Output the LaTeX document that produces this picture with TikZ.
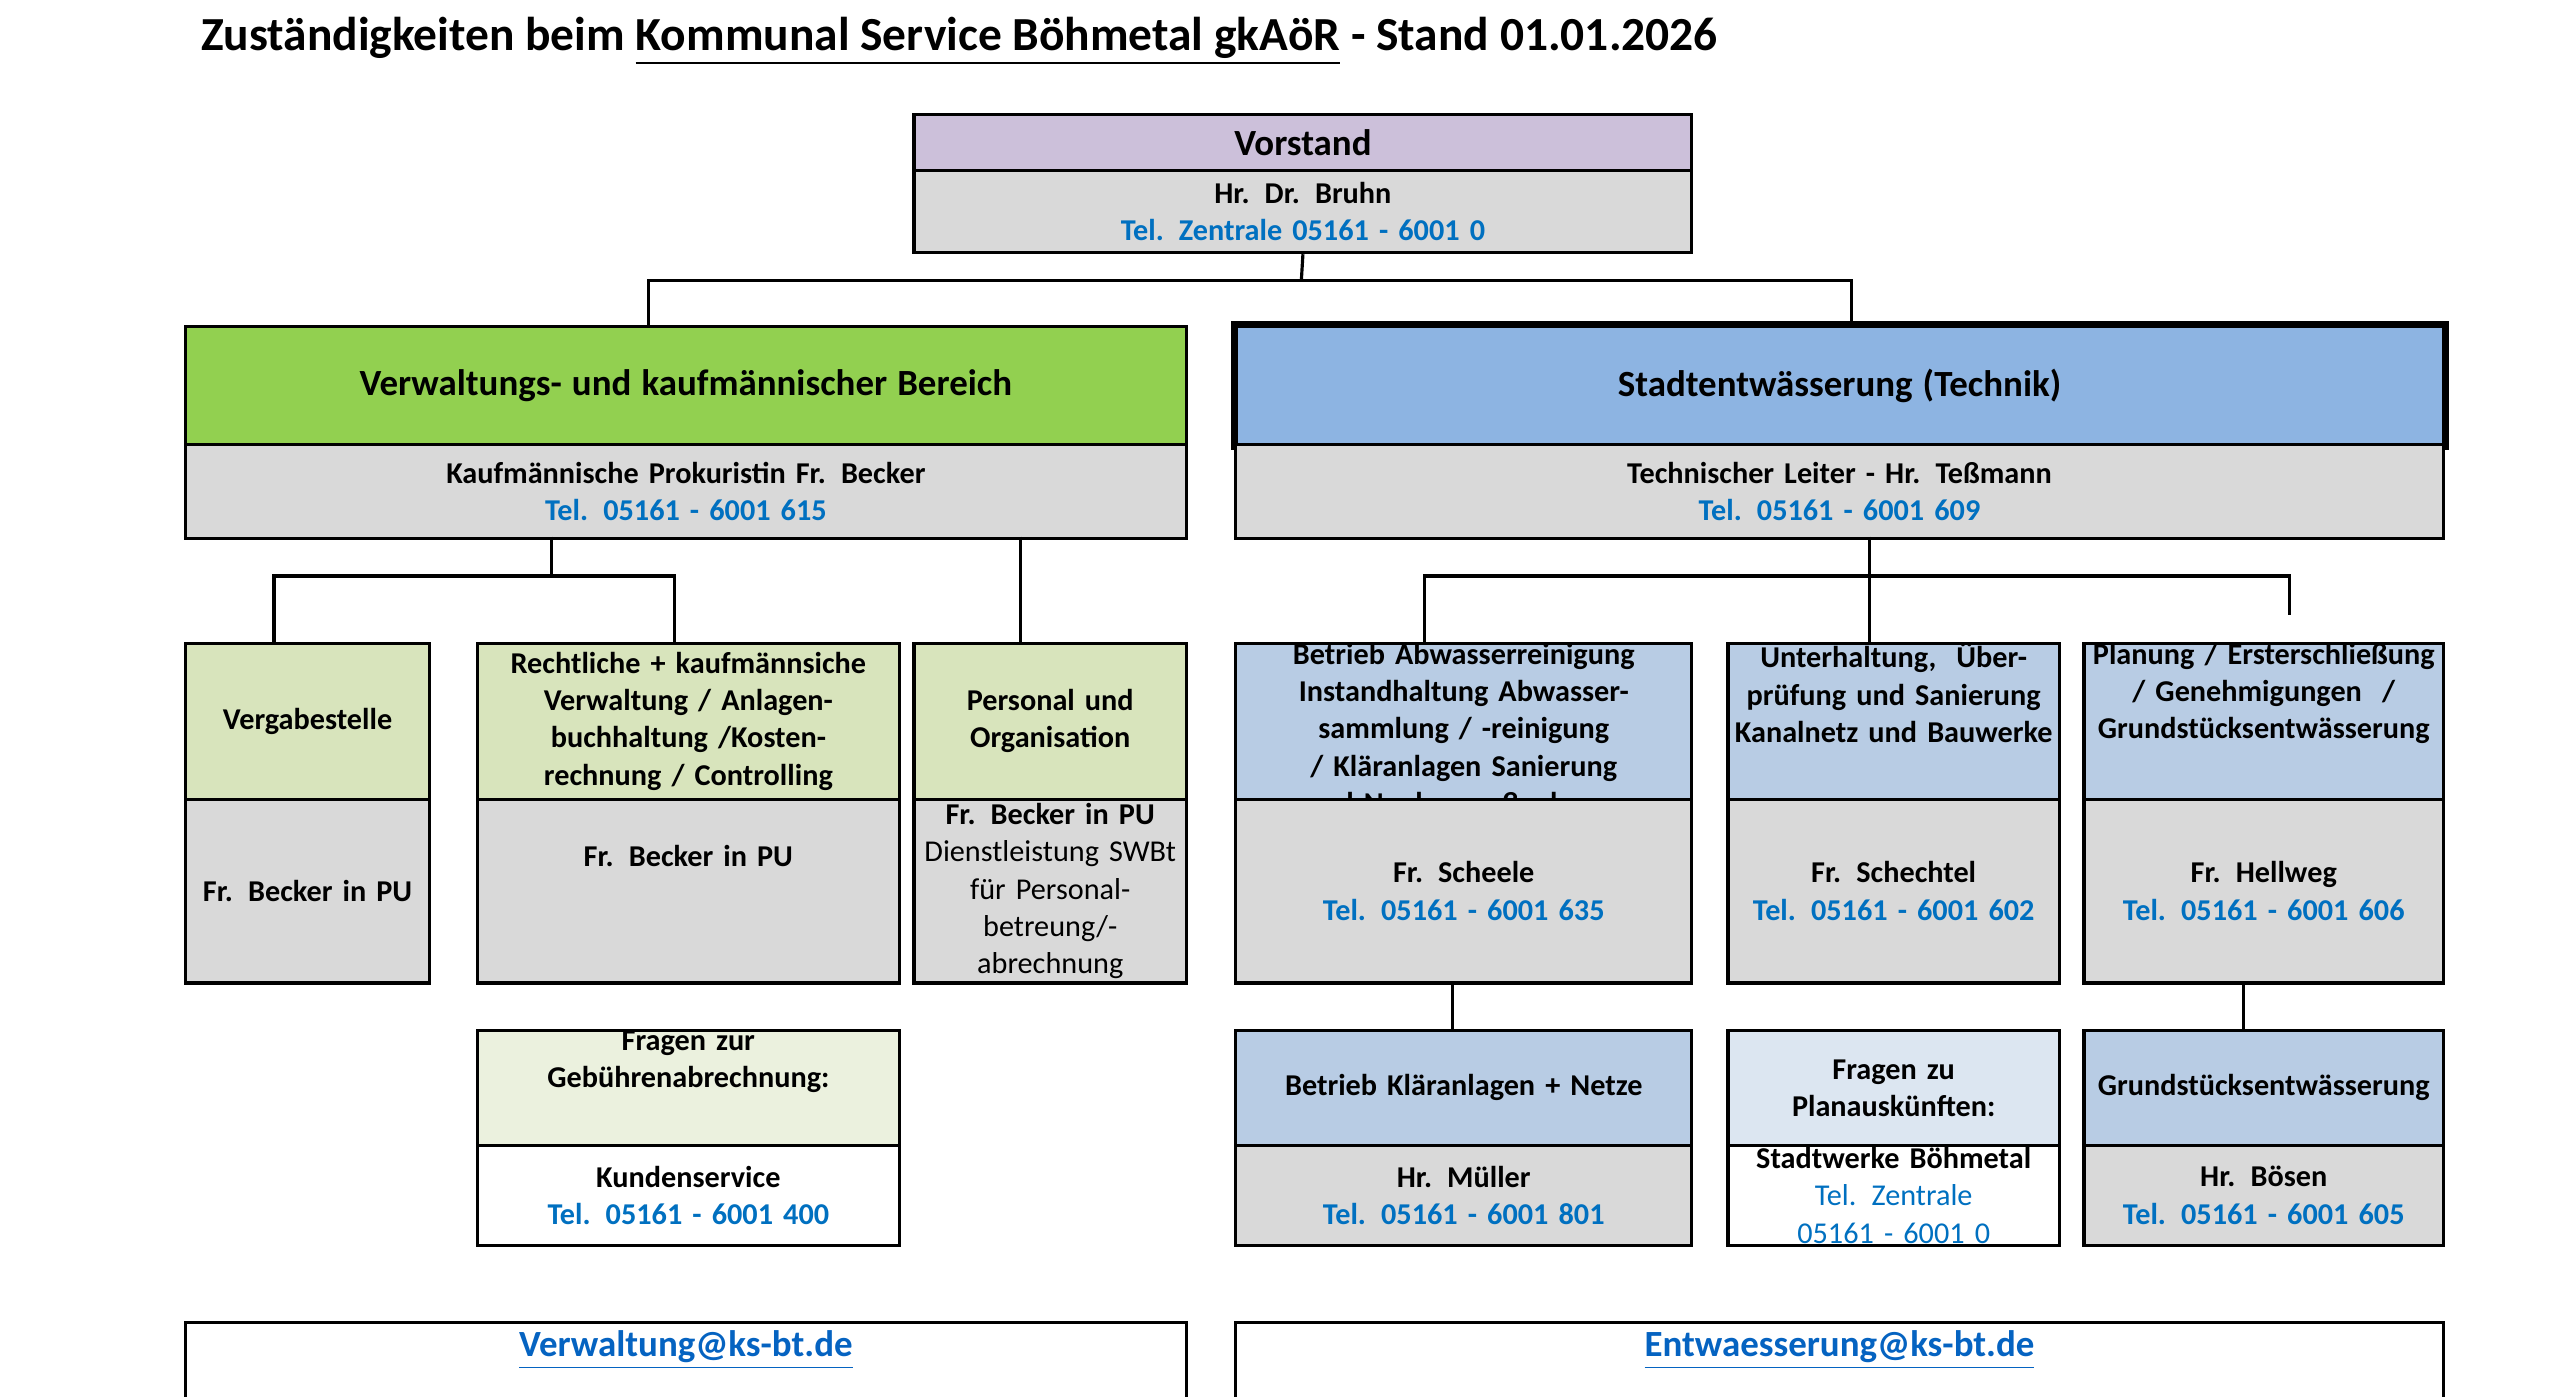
\documentclass[tikz,border=0pt]{standalone}
\usepackage{fontspec}
\setmainfont{Carlito}
\usepackage{xcolor}
\definecolor{vpurple}{HTML}{CCC0DA}
\definecolor{vgrey}{HTML}{D9D9D9}
\definecolor{vgreen}{HTML}{92D050}
\definecolor{vblue}{HTML}{8DB4E2}
\definecolor{lgreen}{HTML}{D8E4BC}
\definecolor{lblue}{HTML}{B8CCE4}
\definecolor{vlgreen}{HTML}{EBF1DE}
\definecolor{vlblue}{HTML}{DCE6F1}
\definecolor{tblue}{HTML}{0070C0}
\definecolor{lnk}{HTML}{0563C1}
\newcommand\tb[1]{\textcolor{tblue}{#1}}
\newcommand\bx[7]{% name, x1, x2, y1, y2, fill, text
  \node[bx, fill=#6, anchor=north west, minimum width={(#3-#2)*0.01641cm},
        minimum height={(#5-#4)*0.01641cm}, text width={(#3-#2-8)*0.01641cm}]
        (#1) at (#2,#4) {#7};}
\tikzset{bx/.style={draw=black, line width=0.9pt, inner sep=0pt, align=center,
   font=\fontsize{8.6}{10.6}\selectfont\bfseries},
   ln/.style={line width=0.9pt}}
\begin{document}
\begin{tikzpicture}[x=0.01641cm,y=-0.01641cm]
\useasboundingbox (0,0) rectangle (1560,851);
\clip (0,0) rectangle (1560,851);
\node[anchor=west, font=\fontsize{13.5}{16}\selectfont\bfseries] (title) at (115,25)
  {Zuständigkeiten beim \underline{Kommunal Service Böhmetal gkAöR} - Stand 01.01.2026};
% Vorstand
\bx{vorH}{556}{1030}{69}{103}{vpurple}{\fontsize{10.5}{12}\selectfont Vorstand}
\bx{vorL}{556}{1030}{103}{153}{vgrey}{Hr. Dr. Bruhn\\\tb{Tel. Zentrale 05161 - 6001 0}}
% main
\bx{verH}{112}{722}{198}{270}{vgreen}{\fontsize{10.5}{12}\selectfont Verwaltungs- und kaufmännischer Bereich}
\bx{verL}{112}{722}{270}{327}{vgrey}{Kaufmännische Prokuristin Fr. Becker\\\tb{Tel. 05161 - 6001 615}}
\bx{steH}{752}{1488}{198}{270}{vblue}{\fontsize{10.5}{12}\selectfont Stadtentwässerung (Technik)}
\draw[line width=2pt] (steH.north west) rectangle (steH.south east);
\bx{steL}{752}{1488}{270}{327}{vgrey}{Technischer Leiter - Hr. Teßmann\\\tb{Tel. 05161 - 6001 609}}
% row 2
\bx{vgH}{112}{261}{391}{486}{lgreen}{Vergabestelle}
\bx{vgL}{112}{261}{486}{598}{vgrey}{Fr. Becker in PU}
\bx{reH}{290}{547}{391}{486}{lgreen}{Rechtliche + kaufmännsiche Verwaltung / Anlagenbuchhaltung /Kostenrechnung / Controlling}
\bx{reL}{290}{547}{486}{598}{vgrey}{Fr. Becker in PU\\[1.1em]~}
\bx{peH}{556}{722}{391}{486}{lgreen}{Personal und\\Organisation}
\bx{peL}{556}{722}{486}{598}{vgrey}{Fr. Becker in PU\\\mdseries Dienstleistung SWBt für Personal-betreung/-abrechnung}
\bx{beH}{752}{1030}{391}{486}{lblue}{Betrieb Abwasserreinigung Instandhaltung Abwassersammlung / -reinigung\ \ / Kläranlagen Sanierung und Neubaumaßnahmen}
\bx{beL}{752}{1030}{486}{598}{vgrey}{Fr. Scheele\\\tb{Tel. 05161 - 6001 635}}
\bx{unH}{1052}{1254}{391}{486}{lblue}{Unterhaltung,\ \ Überprüfung und Sanierung Kanalnetz und Bauwerke\\[1.1em]~}
\bx{unL}{1052}{1254}{486}{598}{vgrey}{Fr. Schechtel\\\tb{Tel. 05161 - 6001 602}}
\bx{plH}{1269}{1488}{391}{486}{lblue}{Planung / Ersterschließung / Genehmigungen\ \ / Grundstücksentwässerung\\[1.1em]~}
\bx{plL}{1269}{1488}{486}{598}{vgrey}{Fr. Hellweg\\\tb{Tel. 05161 - 6001 606}}
% row 3
\bx{fgH}{290}{547}{627}{697}{vlgreen}{Fragen zur Gebührenabrechnung:\\[1.3em]~}
\bx{fgL}{290}{547}{697}{758}{white}{Kundenservice\\\tb{Tel. 05161 - 6001 400}}
\bx{bkH}{752}{1030}{627}{697}{lblue}{Betrieb Kläranlagen + Netze}
\bx{bkL}{752}{1030}{697}{758}{vgrey}{Hr. Müller\\\tb{Tel. 05161 - 6001 801}}
\bx{fpH}{1052}{1254}{627}{697}{vlblue}{Fragen zu Planauskünften:}
\bx{fpL}{1052}{1254}{697}{758}{white}{Stadtwerke Böhmetal\\\mdseries\tb{Tel. Zentrale\ \ 05161 - 6001 0}}
\bx{grH}{1269}{1488}{627}{697}{lblue}{Grundstücksentwässerung}
\bx{grL}{1269}{1488}{697}{758}{vgrey}{Hr. Bösen\\\tb{Tel. 05161 - 6001 605}}
% bottom
\bx{mV}{112}{722}{805}{860}{white}{\fontsize{10.5}{12}\selectfont\textcolor{lnk}{\underline{Verwaltung@ks-bt.de}}\\[0.3em]~}
\bx{mE}{752}{1488}{805}{860}{white}{\fontsize{10.5}{12}\selectfont\textcolor{lnk}{\underline{Entwaesserung@ks-bt.de}}\\[0.3em]~}
% connectors
\coordinate (j1) at (793,171);
\draw[ln] (vorL.south) -- (j1);
\draw[ln] (395,198) -- (395,171) -- (1128,171) -- (1128,198);
\draw[ln] (336,327) -- (336,351);
\draw[ln] (167,391) -- (167,351) -- (411,351) -- (411,391);
\draw[ln] (622,327) -- (622,391);
\draw[ln] (1139,327) -- (1139,391);
\draw[ln] (868,391) -- (868,351) -- (1395,351) -- (1395,375);
\coordinate (bt) at (885,598);
\draw[ln] (bt) -- (885,627);
\draw[ln] (1367,598) -- (1367,627);
\end{tikzpicture}
\end{document}
